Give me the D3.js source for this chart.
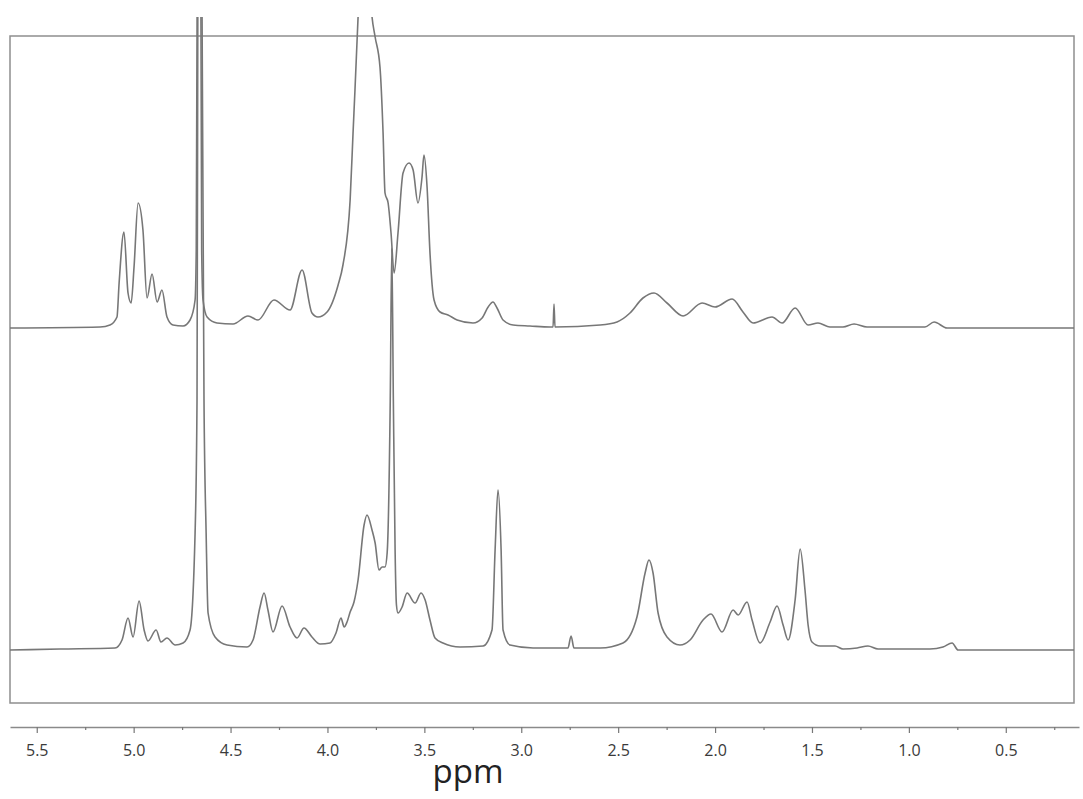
<!DOCTYPE html>
<html>
<head>
<meta charset="utf-8">
<script src="https://cdn.jsdelivr.net/npm/d3@7"></script>
<style>
  html, body { margin: 0; padding: 0; background: #fff; }
  svg { display: block; }
</style>
</head>
<body>
<svg id="chart" width="1083" height="799"></svg>
<script>
// ---- Data ----
// Chemical shift (ppm) and intensity (arbitrary units)
const topPpm = [5.638,5.173,5.122,5.086,5.075,5.050,5.029,5.013,4.998,4.977,4.952,4.931,4.905,4.879,4.854,4.828,4.797,4.745,4.709,4.683,
  4.677,4.671,4.663,4.654,4.649,4.642,4.621,4.570,4.487,4.410,4.358,4.276,4.193,4.131,4.080,4.049,4.002,3.945,3.920,3.883,3.868,3.858,3.842,
  3.806,3.770,3.754,3.729,3.713,3.703,3.687,3.672,3.656,3.636,3.610,3.579,3.558,3.533,3.512,3.502,3.486,3.471,3.450,3.419,3.378,3.331,3.249,
  3.202,3.171,3.146,3.125,3.094,3.042,2.955,2.851,2.836,2.831,2.826,2.593,2.506,2.439,2.372,2.315,2.248,2.165,2.067,2.000,1.912,1.856,1.804,
  1.706,1.654,1.587,1.520,1.469,1.407,1.340,1.283,1.216,0.917,0.870,0.803,0.148];
const topIntensity = [0,1,3,11,45,96,35,25,61,125,98,30,54,26,38,11,3,2,8,28,
  78,400,1500,400,78,28,11,5,4,12,8,28,18,58,15,11,16,43,63,128,195,238,311,
  440,311,291,261,195,135,125,95,55,95,155,165,158,125,151,173,141,75,28,16,13,8,5,
  10,21,26,20,8,3,2,1,1,24,1,3,6,15,30,35,25,12,25,21,29,16,5,
  11,5,20,3,5,1,1,4,1,1,6,0,0];

const bottomPpm = [5.638,5.380,5.096,5.060,5.029,5.003,4.972,4.946,4.926,4.884,4.859,4.828,4.786,4.745,4.709,4.683,4.673,4.669,4.658,4.647,4.637,
  4.626,4.616,4.580,4.518,4.415,4.384,4.348,4.327,4.307,4.281,4.234,4.193,4.157,4.121,4.080,4.038,3.987,3.956,3.930,3.914,3.899,3.883,3.863,
  3.842,3.811,3.796,3.770,3.754,3.734,3.718,3.703,3.692,3.676,3.668,3.660,3.651,3.644,3.636,3.615,3.589,3.548,3.517,3.496,3.471,3.445,3.404,
  3.316,3.197,3.151,3.135,3.120,3.104,3.094,3.058,2.939,2.759,2.743,2.728,2.593,2.475,2.403,2.361,2.341,2.320,2.294,2.248,2.181,2.129,2.062,
  2.021,1.964,1.907,1.881,1.835,1.809,1.768,1.716,1.680,1.649,1.623,1.587,1.561,1.536,1.520,1.500,1.458,1.381,1.340,1.267,1.211,1.159,0.891,
  0.824,0.777,0.746,0.148];
const bottomIntensity = [0,1,2,10,32,13,49,20,9,20,8,12,5,7,20,117,250,633,1400,633,250,
  117,37,13,5,3,10,43,57,40,18,44,23,12,22,13,6,7,17,32,23,28,38,48,
  70,125,135,120,107,80,83,83,97,250,402,250,100,45,37,43,57,47,57,50,30,12,7,
  3,4,20,100,160,100,20,5,2,2,14,2,2,7,33,77,90,77,37,13,5,10,30,
  36,18,40,35,48,30,7,28,44,25,10,50,101,60,25,8,4,4,1,2,4,1,1,
  3,7,0,0];

const spectrumOffsets = [322, 0];           // vertical stacking of the two traces (a.u.)
const tickValues = [5.5, 5.0, 4.5, 4.0, 3.5, 3.0, 2.5, 2.0, 1.5, 1.0, 0.5];
const minorTickValues = [5.25, 4.75, 4.25, 3.75, 3.25, 2.75, 2.25, 1.75, 1.25, 0.75, 0.25];
const axisTitle = "ppm";

// ---- Layout ----
const svg = d3.select("#chart");
const frame = { left: 10, top: 36, right: 1074, bottom: 703 };

const x = d3.scaleLinear().domain([5.638, 0.148]).range([frame.left, frame.right]);
const y = d3.scaleLinear().domain([0, 1000]).range([650, -350]);

svg.append("defs").append("clipPath").attr("id", "clip")
  .append("rect").attr("x", frame.left).attr("y", 17)
  .attr("width", frame.right - frame.left).attr("height", frame.bottom - 17);

// frame
svg.append("rect")
  .attr("x", frame.left).attr("y", frame.top)
  .attr("width", frame.right - frame.left).attr("height", frame.bottom - frame.top)
  .attr("fill", "none").attr("stroke", "#8e8e8e").attr("stroke-width", 1.5);

const series = [
  { ppm: topPpm, val: topIntensity, off: spectrumOffsets[0] },
  { ppm: bottomPpm, val: bottomIntensity, off: spectrumOffsets[1] }
];

const line = d3.line()
  .x(d => x(d[0]))
  .y(d => y(d[1]))
  .curve(d3.curveMonotoneX);

const g = svg.append("g").attr("clip-path", "url(#clip)");
series.forEach(s => {
  const pts = s.ppm.map((p, i) => [p, s.val[i] + s.off]).sort((a, b) => a[0] - b[0]);
  g.append("path")
    .datum(pts)
    .attr("d", line)
    .attr("fill", "none")
    .attr("stroke", "#777")
    .attr("stroke-width", 1.6)
    .attr("stroke-linejoin", "round");
});

// axis
const axisY = 727;
const xAxisScale = x.copy().domain([x.invert(10), x.invert(1079)]).range([10, 1079]);

const axisG = svg.append("g").attr("transform", `translate(0,${axisY})`)
  .call(d3.axisBottom(xAxisScale).tickValues(tickValues).tickSize(6).tickSizeOuter(0)
    .tickPadding(12).tickFormat(d3.format(".1f")));
axisG.select(".domain").attr("stroke", "#8a8a8a").attr("stroke-width", 1.5);
axisG.selectAll(".tick line").attr("stroke", "#777").attr("stroke-width", 1.2);
axisG.selectAll(".tick text")
  .attr("font-family", "'Open Sans', sans-serif")
  .attr("font-size", 16)
  .attr("fill", "#3a3a3a");

const minorG = svg.append("g").attr("transform", `translate(0,${axisY})`)
  .call(d3.axisBottom(xAxisScale).tickValues(minorTickValues).tickSize(3).tickFormat(""));
minorG.select(".domain").remove();
minorG.selectAll(".tick line").attr("stroke", "#777").attr("stroke-width", 1.2);

svg.append("text")
  .attr("x", 468).attr("y", 783)
  .attr("text-anchor", "middle")
  .attr("font-family", "'Open Sans', sans-serif")
  .attr("font-size", 33)
  .attr("fill", "#222")
  .text(axisTitle);
</script>
</body>
</html>
